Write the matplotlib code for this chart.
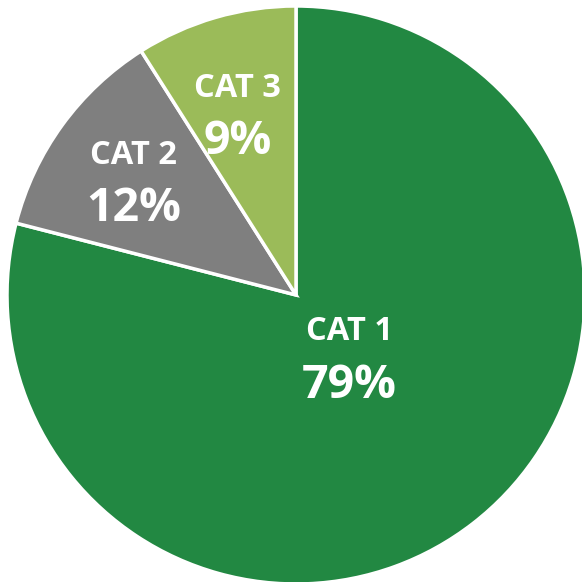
import numpy as np
import matplotlib
matplotlib.use("Agg")
import matplotlib.pyplot as plt

categories = ["CAT 1", "CAT 2", "CAT 3"]
values = [79, 12, 9]
colors = ["#228842", "#7f7f7f", "#9bbb59"]
label_radius = [0.316, 0.665, 0.62]
label_angle_shift = [-2.2, 3.8, 2.8]

fig = plt.figure(figsize=(5.82, 5.82), dpi=100)
W = 582.0
cx, cy, R = 296.0, 295.0, 289.0
ax = fig.add_axes([(cx - R) / W, (W - cy - R) / W, 2 * R / W, 2 * R / W])
wedges, _ = ax.pie(values, colors=colors, startangle=90, counterclock=False,
                   radius=1.0, wedgeprops=dict(edgecolor="white", linewidth=2.5))
ax.set_xlim(-1, 1)
ax.set_ylim(-1, 1)
ax.set_aspect("equal")
ax.axis("off")

font = "Open Sans"
total = sum(values)
start = 90.0
for cat, v, lr, sh in zip(categories, values, label_radius, label_angle_shift):
    span = 360.0 * v / total
    mid = np.deg2rad(start - span / 2 + sh)
    start -= span
    x, y = lr * np.cos(mid), lr * np.sin(mid)
    ax.text(x, y + 0.10, cat, ha="center", va="baseline", color="white",
            fontsize=23.5, fontweight="bold", family=font)
    ax.text(x, y - 0.10, f"{v}%", ha="center", va="baseline", color="white",
            fontsize=33.5, fontweight="bold", family=font)

fig.savefig("out.png", dpi=100)
